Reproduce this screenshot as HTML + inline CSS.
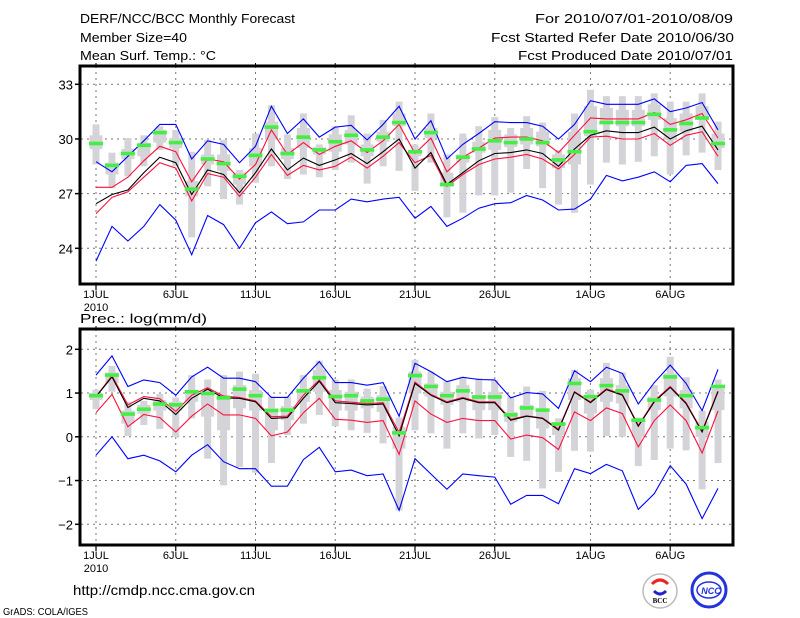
<!DOCTYPE html>
<html><head><meta charset="utf-8"><style>
html,body{margin:0;padding:0;background:#fff;}
svg{display:block;font-family:"Liberation Sans",sans-serif;}
</style></head><body>
<svg id="chart" width="800" height="618" viewBox="0 0 800 618">
<rect width="800" height="618" fill="#fff"/>
<g font-size="13" fill="#000">
<text x="80" y="23" textLength="215" lengthAdjust="spacingAndGlyphs">DERF/NCC/BCC Monthly Forecast</text>
<text x="80" y="42" textLength="107" lengthAdjust="spacingAndGlyphs">Member Size=40</text>
<text x="80" y="60" textLength="136" lengthAdjust="spacingAndGlyphs">Mean Surf. Temp.: °C</text>
<text x="535" y="23" textLength="198" lengthAdjust="spacingAndGlyphs">For 2010/07/01-2010/08/09</text>
<text x="491" y="42" textLength="243" lengthAdjust="spacingAndGlyphs">Fcst Started Refer Date 2010/06/30</text>
<text x="518" y="60" textLength="215" lengthAdjust="spacingAndGlyphs">Fcst Produced Date 2010/07/01</text>
<text x="80" y="323" textLength="127" lengthAdjust="spacingAndGlyphs">Prec.: log(mm/d)</text>
<text x="73" y="595" font-size="14" textLength="182" lengthAdjust="spacingAndGlyphs">http://cmdp.ncc.cma.gov.cn</text>
<text x="3" y="615" font-size="10" textLength="85" lengthAdjust="spacingAndGlyphs">GrADS: COLA/IGES</text>
</g>
<g>
<circle cx="660" cy="591" r="17" fill="#fff" stroke="#bbb" stroke-width="1.5"/>
<path d="M652 584 q8 -8 16 0" stroke="#e22" stroke-width="3" fill="none"/>
<path d="M654 591 q6 6 12 0" stroke="#22c" stroke-width="3" fill="none"/>
<text x="660" y="603" font-size="7" text-anchor="middle" font-family="Liberation Serif,serif" font-weight="bold">BCC</text>
</g>
<g>
<circle cx="709" cy="590" r="17" fill="#fff" stroke="#2233dd" stroke-width="3"/>
<ellipse cx="709" cy="590" rx="12" ry="8" fill="none" stroke="#2233dd" stroke-width="1.5"/>
<text x="711" y="594" font-size="9" text-anchor="middle" fill="#2233dd" font-weight="bold" font-style="italic">NCC</text>
</g>
<g id="top"></g>
<g id="bot"></g>
</svg>
<script>
const days=["1JUL","6JUL","11JUL","16JUL","21JUL","26JUL","1AUG","6AUG"];
const dayIdx=[0,5,10,15,20,25,31,36];
// Temperature panel
const tTicks=[24,27,30,33];
const tBlueHi=[28.75,28.2,29.05,29.9,30.8,30.8,28.9,29.9,29.7,28.7,29.6,31.8,30.3,31.1,30.1,30.65,30.75,29.95,30.8,31.8,30.0,31.0,28.9,29.7,30.3,30.95,30.9,30.9,30.7,30.0,30.8,32.1,31.9,31.9,31.9,32.2,31.5,31.7,32.0,30.5];
const tRedHi=[27.35,27.35,27.9,28.8,29.6,29.3,27.65,28.9,28.75,27.8,28.6,30.5,29.15,29.8,29.15,29.6,29.9,29.25,29.9,30.8,29.2,30.05,28.2,29.0,29.5,30.05,30.1,30.1,29.9,29.25,30.2,31.15,31.1,31.1,31.1,31.45,30.8,31.05,31.4,30.05];
const tMean=[26.45,26.95,27.2,28.15,29.0,28.7,26.95,28.3,28.05,27.05,28.15,29.45,28.3,28.95,28.55,28.85,29.2,28.65,29.3,30.0,28.4,29.25,27.5,28.15,28.8,29.2,29.25,29.4,29.2,28.5,29.45,30.2,30.45,30.35,30.35,30.65,30.0,30.45,30.7,29.4];
const tRedLo=[25.9,26.8,27.1,27.9,28.7,28.4,26.6,28.1,27.9,26.85,27.9,29.15,28.0,28.55,28.3,28.5,29.0,28.4,29.05,29.8,28.7,29.1,27.4,28.05,28.6,28.9,29.0,29.15,28.9,28.35,29.15,30.1,30.15,30.0,30.0,30.3,29.65,30.2,30.4,29.05];
const tBlueLo=[23.3,25.2,24.4,25.2,26.4,25.55,23.65,25.8,25.3,24.0,25.4,26.0,25.35,25.45,26.1,26.1,26.7,26.55,26.7,26.8,25.65,26.3,25.2,25.65,26.2,26.45,26.5,26.9,26.65,26.1,26.15,26.7,28.0,27.7,27.9,28.2,27.65,28.55,28.65,27.55];
const tGreen=[29.75,28.55,29.2,29.65,30.35,29.8,27.25,28.9,28.65,27.95,29.1,30.65,29.2,30.1,29.4,29.85,30.2,29.4,30.1,30.9,29.3,30.35,27.5,29.0,29.45,29.9,29.8,30.0,29.8,28.85,29.3,30.4,30.9,30.9,30.9,31.35,30.5,30.85,31.15,29.75];
const tWhiskHi=[30.8,29.25,30.05,30.2,30.7,30.5,29.3,29.95,29.95,28.3,30.3,31.85,30.25,31.4,29.7,30.7,31.3,30.3,31.05,32.05,29.7,31.4,29.15,30.3,30.7,31.2,30.6,31.25,30.9,29.4,31.4,32.7,32.35,32.35,32.35,32.5,32.05,32.05,32.5,30.95];
const tWhiskLo=[28.6,27.3,27.95,28.5,29.4,28.5,24.6,27.4,26.7,26.4,27.6,28.5,27.8,28.05,27.9,28.3,28.7,27.55,28.5,28.25,27.15,28.7,25.7,25.95,26.9,26.9,27.05,28.35,27.3,26.4,25.95,27.5,28.7,28.6,28.75,29.05,28.05,29.1,29.25,28.3];
const tBoxHi=[30.2,28.7,29.45,29.8,30.5,30.05,27.7,29.15,29.15,28.15,29.5,30.95,29.5,30.6,29.55,30.25,30.5,29.7,30.4,31.4,29.4,30.6,28.15,29.15,29.85,30.5,30.25,30.6,30.4,29.15,30.4,31.8,31.7,31.6,31.6,31.9,31.15,31.4,31.8,30.3];
const tBoxLo=[29.45,28.05,28.9,29.05,29.8,29.5,26.85,28.6,28.25,27.5,28.5,29.95,28.9,29.5,29.15,29.3,29.7,29.05,29.85,30.7,29.05,30.05,27.4,28.7,29.25,29.4,29.55,29.7,29.6,28.4,28.6,30.15,30.9,30.7,30.7,31.05,29.95,30.4,31.15,29.5];
// Precipitation panel
const pTicks=[-2,-1,0,1,2];
const pBlueHi=[1.41,1.85,1.15,1.3,1.24,0.95,1.37,1.59,1.34,1.34,1.26,0.9,0.9,1.34,1.72,1.24,1.24,1.18,1.24,0.47,1.68,1.49,1.26,1.36,1.31,1.3,0.89,1.01,0.98,0.65,1.51,1.26,1.59,1.45,0.75,1.24,1.64,1.22,0.6,1.54];
const pRedHi=[0.92,1.4,0.73,0.92,0.87,0.58,0.95,1.12,0.93,0.9,0.82,0.46,0.47,0.95,1.3,0.82,0.79,0.76,0.78,0.1,1.25,0.97,0.8,0.9,0.8,0.8,0.4,0.48,0.43,0.18,1.03,0.8,1.1,0.97,0.26,0.82,1.15,0.78,0.13,1.05];
const pMean=[0.92,1.37,0.67,0.88,0.82,0.51,0.88,1.09,0.89,0.88,0.8,0.42,0.44,0.88,1.27,0.78,0.76,0.73,0.75,0.02,1.22,0.95,0.78,0.88,0.78,0.78,0.38,0.47,0.42,0.15,1.02,0.78,1.08,0.95,0.24,0.8,1.13,0.76,0.11,1.03];
const pRedLo=[0.55,0.97,0.23,0.51,0.44,0.11,0.47,0.75,0.5,0.5,0.42,0.02,0.11,0.55,0.88,0.4,0.38,0.33,0.37,-0.4,0.82,0.52,0.33,0.42,0.37,0.37,-0.05,0.04,-0.02,-0.29,0.57,0.37,0.66,0.53,-0.23,0.37,0.73,0.37,-0.37,0.59];
const pBlueLo=[-0.42,0,-0.5,-0.42,-0.55,-0.8,-0.42,-0.18,-0.57,-0.73,-0.73,-1.13,-1.13,-0.52,-0.24,-0.8,-0.76,-0.89,-0.85,-1.68,-0.5,-0.85,-1.2,-0.85,-0.89,-0.92,-1.54,-1.34,-1.34,-1.53,-0.73,-0.84,-0.63,-0.78,-1.66,-1.3,-0.66,-1.08,-1.87,-1.18];
const pGreen=[0.94,1.41,0.52,0.63,0.75,0.73,1.03,0.99,0.89,1.09,0.94,0.6,0.61,1.05,1.35,0.92,0.94,0.82,0.86,0.09,1.4,1.15,0.94,1.05,0.91,0.91,0.5,0.66,0.61,0.29,1.22,0.92,1.17,1.05,0.38,0.84,1.37,0.94,0.21,1.15];
const pWhiskHi=[1.08,1.62,0.8,0.82,0.98,0.9,1.41,1.31,1.41,1.49,1.44,0.92,0.92,1.41,1.74,1.31,1.31,1.1,1.16,0.44,1.76,1.49,1.26,1.37,1.34,1.3,0.92,1.15,1.05,0.42,1.53,1.08,1.69,1.47,0.44,1.18,1.83,1.36,0.6,1.31];
const pWhiskLo=[0.63,1.03,0.02,0.27,0.18,0,0.42,-0.5,-1.11,-0.69,-0.82,-0.6,0.04,0.3,0.5,0.24,0.15,0.09,-0.15,-1.68,0.15,0.08,-0.27,0.08,-0.04,0.04,-0.46,-0.55,-1.18,-0.8,-0.32,-0.34,0.02,0,-0.67,-0.53,-0.27,-0.31,-1.2,-0.6];
const pBoxHi=[1.0,1.47,0.6,0.73,0.84,0.8,1.07,1.03,0.95,1.18,1.07,0.65,0.7,1.1,1.53,1.07,1.03,0.92,0.95,0.23,1.49,1.22,1.03,1.18,0.95,1.03,0.57,0.73,0.61,0.34,1.34,0.95,1.34,1.18,0.34,0.92,1.45,1.07,0.34,1.1];
const pBoxLo=[0.84,1.22,0.3,0.53,0.6,0.6,0.8,0.46,0.15,0.65,0.6,0.15,0.38,0.8,1.03,0.6,0.6,0.65,0.57,-0.27,0.99,0.92,0.73,0.8,0.61,0.61,0.34,0.46,0.19,0.04,0.84,0.53,0.8,0.76,0,0.61,0.92,0.65,0,0.61];

const NS="http://www.w3.org/2000/svg";
const X0=81,X1=733,D0=96,STEP=15.95;
function xOf(i){return D0+i*STEP;}
function mk(parent,tag,attrs){const e=document.createElementNS(NS,tag);for(const k in attrs)e.setAttribute(k,attrs[k]);parent.appendChild(e);return e;}

function panel(g,top,bottom,yOf,ticks,s,labelY,withYear){
  // grid
  dayIdx.forEach((d,k)=>{
    const l=mk(g,'line',{x1:xOf(d),x2:xOf(d),y1:top,y2:bottom,stroke:'#777','stroke-dasharray':'2,4','stroke-width':1});
    
    
  });
  ticks.forEach(t=>{
    const y=yOf(t);
    const l=mk(g,'line',{x1:X0,x2:X1,y1:y,y2:y,stroke:'#777','stroke-dasharray':'2,4','stroke-width':1});
    
    
    const tk=mk(g,'line',{x1:75,x2:X0,y1:y,y2:y,stroke:'#000','stroke-width':1.5});
    
    
    const tx=mk(g,'text',{x:73,y:y+5,'font-size':13,'text-anchor':'end'});
    tx.textContent=String(t).replace('-','\u2212');
    
    
  });
  // boxes
  for(let i=0;i<s.whHi.length;i++){
    const x=xOf(i);
    const w=mk(g,'rect',{x:x-3.5,y:yOf(s.whHi[i]),width:7,height:yOf(s.whLo[i])-yOf(s.whHi[i]),fill:'#d4d4d8'});
    
    
    const b=mk(g,'rect',{x:x-6.5,y:yOf(s.bxHi[i]),width:13,height:yOf(s.bxLo[i])-yOf(s.bxHi[i]),fill:'#d4d4d8'});
    
    
  }
  const lines=[[s.blueLo,'#0000ff','lower-bound-line'],[s.blueHi,'#0000ff','upper-bound-line'],[s.redLo,'#ff1040','lower-spread-line'],[s.redHi,'#ff1040','upper-spread-line'],[s.mean,'#000','ensemble-mean-line']];
  lines.forEach(([arr,c,nm])=>{
    const p=mk(g,'polyline',{points:arr.map((v,i)=>xOf(i).toFixed(1)+','+yOf(v).toFixed(1)).join(' '),fill:'none',stroke:c,'stroke-width':1.1});
    
    
  });
  s.green.forEach((v,i)=>{
    const r=mk(g,'rect',{x:xOf(i)-7,y:yOf(v)-1.8,width:14,height:3.6,fill:'#44ee44'});
    
    
  });
  // frame
  const f=mk(g,'rect',{x:X0-1,y:top,width:X1-X0+1,height:bottom-top,fill:'none',stroke:'#000','stroke-width':3});
  
  
  dayIdx.forEach((d,k)=>{
    const x=xOf(d);
    const t1=mk(g,'line',{x1:x,x2:x,y1:bottom,y2:bottom+6,stroke:'#000','stroke-width':1.2});
    
    
    const t2=mk(g,'line',{x1:x,x2:x,y1:top,y2:top-3,stroke:'#000','stroke-width':1});
    
    
    const tx=mk(g,'text',{x:x,y:labelY,'font-size':11,'text-anchor':'middle'});
    tx.textContent=days[k];
    
    
  });
  if(withYear){
    const yr=mk(g,'text',{x:xOf(0),y:labelY+13,'font-size':11,'text-anchor':'middle'});
    yr.textContent='2010';
    
    
  }
}
function tY(v){return 84.3+(33-v)*(164/9);}
function pY(v){return 436.8-v*43.75;}
panel(document.getElementById('top'),66,284,tY,tTicks,{blueHi:tBlueHi,redHi:tRedHi,mean:tMean,redLo:tRedLo,blueLo:tBlueLo,green:tGreen,whHi:tWhiskHi,whLo:tWhiskLo,bxHi:tBoxHi,bxLo:tBoxLo},298,true);
panel(document.getElementById('bot'),329,545,pY,pTicks,{blueHi:pBlueHi,redHi:pRedHi,mean:pMean,redLo:pRedLo,blueLo:pBlueLo,green:pGreen,whHi:pWhiskHi,whLo:pWhiskLo,bxHi:pBoxHi,bxLo:pBoxLo},559,true);
</script>
</body></html>
